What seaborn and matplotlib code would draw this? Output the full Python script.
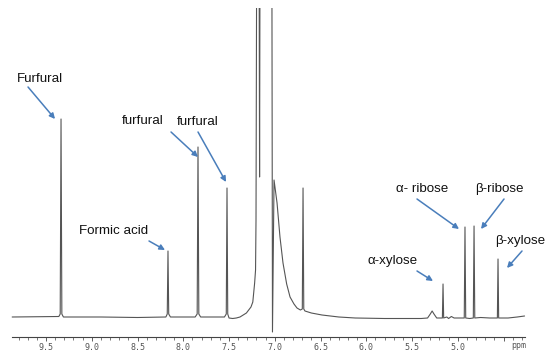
import numpy as np
import pandas as pd
import matplotlib
matplotlib.use("Agg")
import matplotlib.pyplot as plt
import seaborn as sns

# ---------------- data ----------------
# spectrum trace: chemical shift (ppm) and intensity (arbitrary units)
ppm = [9.87, 9.36, 9.345, 9.336, 9.327, 9.31, 8.90, 8.50, 8.19, 8.175, 8.167, 8.159,
       8.14, 7.87, 7.848, 7.839, 7.830, 7.81, 7.55, 7.53, 7.522, 7.514, 7.50, 7.46,
       7.42, 7.38, 7.31, 7.26, 7.24, 7.22, 7.21, 7.205, 7.183, 7.166, 7.150, 7.10,
       7.041, 7.025, 7.008, 6.975, 6.943, 6.910, 6.870, 6.833, 6.790, 6.757, 6.720,
       6.699, 6.691, 6.683, 6.670, 6.600, 6.484, 6.300, 6.120, 5.80, 5.50, 5.40,
       5.33, 5.30, 5.28, 5.26, 5.23, 5.18, 5.168, 5.161, 5.154, 5.12, 5.10, 5.07,
       5.04, 4.95, 4.929, 4.921, 4.913, 4.87, 4.830, 4.822, 4.814, 4.75, 4.65,
       4.58, 4.567, 4.560, 4.553, 4.45, 4.35, 4.27]
intensity = [0, 0.5, 3, 198, 3, 0, 0, -0.5, 0, 3, 66, 3,
             0, 0, 3, 170, 3, 0, 0, 3, 129, 3, -1, -1.5,
             -1, 0, 4, 10, 15, 34, 47, 97, 900, 140, 900, 600,
             900, -15, 137, 114, 80, 54, 33, 20, 13, 9, 7,
             8, 129, 8, 6, 4, 2, 0, -1, -1.5, -1.5, -1.5,
             -1, 3, 6, 3, -1, -1, -1, 33, -1, 0, -1.5, 0.5,
             -1, -1, -1, 90, -1, -1.5, -1, 91, -1, -0.5, -1,
             -1, -1, 58, -1, -1, 0, 1]

major_ticks = [9.5, 9.0, 8.5, 8.0, 7.5, 7.0, 6.5, 6.0, 5.5, 5.0, 4.5]
major_labels = ["9.5", "9.0", "8.5", "8.0", "7.5", "7.0", "6.5", "6.0", "5.5", "5.0", ""]
minor_ticks = [round(v / 10, 1) for v in range(43, 99) if v % 5 != 0]

labels = ["Furfural", "furfural", "furfural", "Formic acid",
          "\u03b1- ribose", "\u03b2-ribose", "\u03b2-xylose", "\u03b1-xylose"]

# ---------------- layout (pixel positions in the 552x351 picture) ----------------
text_px = [(40, 79), (143, 121), (198, 122), (114, 231),
           (422, 189), (499, 189), (520, 241), (393, 261)]
arrow_px = [((28, 87), (55, 119)), ((171, 132), (198, 157)), ((198, 132), (226, 182)),
            ((149, 241), (165, 250)), ((417, 199), (459, 229)), ((504, 199), (481, 229)),
            ((522, 251), (507, 268)), ((417, 271), (433, 281))]


def px(x, y):
    return 9.5 - (x - 46) / 91.5, 317 - y


sns.set_style("white")
plt.rcParams["font.family"] = ["Liberation Sans", "DejaVu Sans"]

fig = plt.figure(figsize=(5.52, 3.51), dpi=100)
ax = fig.add_axes([0, 0, 1, 343 / 351])

df = pd.DataFrame({"ppm": ppm, "intensity": intensity})
sns.lineplot(data=df, x="ppm", y="intensity", ax=ax, sort=False, estimator=None,
             color="#555555", linewidth=0.8)

ax.set_xlim(10.003, 3.970)
ax.set_ylim(-34, 309)

for s in ["left", "top", "right"]:
    ax.spines[s].set_visible(False)
ax.spines["bottom"].set_position(("data", -20))
ax.spines["bottom"].set_bounds(9.87, 4.27)
ax.spines["bottom"].set_color("#444444")
ax.spines["bottom"].set_linewidth(0.8)

ax.set_yticks([])
ax.set_xticks(major_ticks)
ax.set_xticklabels(major_labels, family="DejaVu Sans Mono", fontsize=6, color="#555555")
ax.set_xticks(minor_ticks, minor=True)
ax.tick_params(axis="x", which="major", direction="out", length=3, width=0.6,
               color="#444444", pad=1.5, bottom=True)
ax.tick_params(axis="x", which="minor", direction="out", length=1.8, width=0.5,
               color="#444444", bottom=True)
ax.set_xlabel("")
ax.set_ylabel("")

tx, ty = px(519, 346)
ax.text(tx, ty, "ppm", family="DejaVu Sans Mono", fontsize=6, color="#555555",
        ha="center", va="center")

for lab, (x, y) in zip(labels, text_px):
    dx, dy = px(x, y)
    ax.text(dx, dy, lab, fontsize=9.6, color="#111111", ha="center", va="center",
            family=["Liberation Sans", "DejaVu Sans"])

for (t, h) in arrow_px:
    ax.annotate("", xy=px(*h), xytext=px(*t),
                arrowprops=dict(arrowstyle="-|>", color="#4a7ebb", lw=1.1,
                                mutation_scale=8, shrinkA=0, shrinkB=0))

fig.savefig("out.png", dpi=100)
